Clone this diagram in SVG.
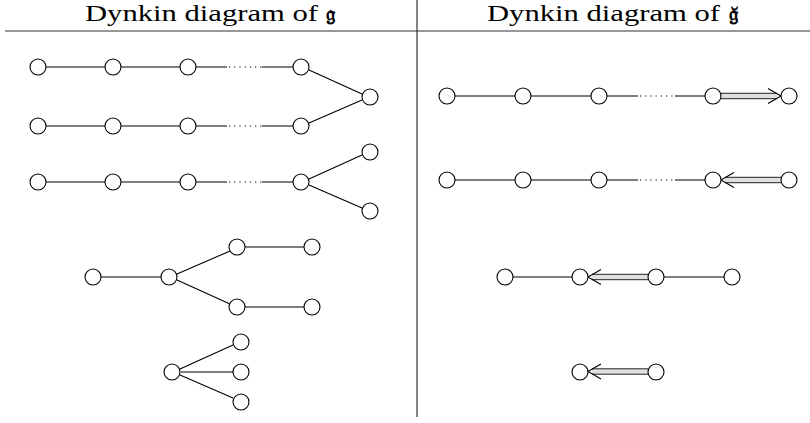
<svg xmlns="http://www.w3.org/2000/svg" width="810" height="423" viewBox="0 0 810 423">
<style>
.n{fill:#fff;stroke:#000;stroke-width:1.1}
.e{stroke:#000;stroke-width:1.1;fill:none}
.d{stroke:#000;stroke-width:1.1;stroke-dasharray:1.2 4;fill:none}
.dl{stroke:#222;stroke-width:1;fill:none}
.bar{fill:#e0e0e0;stroke:none}
.h{font-family:"Liberation Serif",serif;font-size:23px;fill:#000}
.g{font-family:"DejaVu Serif","DejaVu Sans",serif;font-size:21px;font-weight:bold}
.rule{stroke:#333;stroke-width:1.2}
</style>
<rect width="810" height="423" fill="#fff"/>
<g id="header">
<text class="h" y="20.5"><tspan x="85" textLength="233" lengthAdjust="spacingAndGlyphs">Dynkin diagram of</tspan><tspan class="g" x="326">𝔤</tspan></text>
<text class="h" y="20.5"><tspan x="487" textLength="233" lengthAdjust="spacingAndGlyphs">Dynkin diagram of</tspan><tspan class="g" x="729">𝔤̆</tspan></text>
<line class="rule" x1="5" y1="31" x2="810" y2="31"/>
<line class="rule" x1="417" y1="0" x2="417" y2="417"/>
</g>
<g id="connectors">
<path class="e" d="M46 67H105M121 67H180M196 67H227M262 67H293M309 70L362 94"/>
<path class="d" d="M229 67H262"/>
<path class="e" d="M46 126H105M121 126H180M196 126H227M262 126H293M309 123L362 100"/>
<path class="d" d="M229 126H262"/>
<path class="e" d="M46 182H105M121 182H180M196 182H227M262 182H293M309 179L362 155M309 185L362 208"/>
<path class="d" d="M229 182H262"/>
<path class="e" d="M101 277H161M177 274L230 251M177 280L230 304M245 247H304M245 307H304"/>
<path class="e" d="M180 369L233 345M181 372H233M180 375L233 398"/>
<path class="e" d="M455 96H515M531 96H591M607 96H638M675 96H705"/>
<path class="d" d="M640 96H675"/>
<rect class="bar" x="721" y="93.5" width="56" height="5"/>
<path class="dl" d="M721 93.3H777M721 98.7H777"/>
<path class="e" d="M768 88.5L781 96L768 103.5"/>
<path class="e" d="M455 180H515M531 180H591M607 180H638M675 180H705"/>
<path class="d" d="M640 180H675"/>
<rect class="bar" x="725" y="177.5" width="56" height="5"/>
<path class="dl" d="M725 177.3H781M725 182.7H781"/>
<path class="e" d="M734 172.5L721 180L734 187.5"/>
<path class="e" d="M513 277H572M664 277H724"/>
<rect class="bar" x="592" y="274.5" width="56" height="5"/>
<path class="dl" d="M592 274.3H648M592 279.7H648"/>
<path class="e" d="M601 269.5L588 277L601 284.5"/>
<rect class="bar" x="592" y="369" width="56" height="5"/>
<path class="dl" d="M592 368.8H648M592 374.2H648"/>
<path class="e" d="M601 364L588 371.5L601 379"/>
</g>
<g id="nodes">
<g id="l1"><circle class="n" cx="38" cy="67" r="8"/><circle class="n" cx="113" cy="67" r="8"/><circle class="n" cx="188" cy="67" r="8"/><circle class="n" cx="301" cy="67" r="8"/><circle class="n" cx="370" cy="97" r="8"/></g>
<g id="l2"><circle class="n" cx="38" cy="126" r="8"/><circle class="n" cx="113" cy="126" r="8"/><circle class="n" cx="188" cy="126" r="8"/><circle class="n" cx="301" cy="126" r="8"/></g>
<g id="l3"><circle class="n" cx="38" cy="182" r="8"/><circle class="n" cx="113" cy="182" r="8"/><circle class="n" cx="188" cy="182" r="8"/><circle class="n" cx="301" cy="182" r="8"/><circle class="n" cx="370" cy="152" r="8"/><circle class="n" cx="370" cy="211" r="8"/></g>
<g id="l4"><circle class="n" cx="93" cy="277" r="8"/><circle class="n" cx="169" cy="277" r="8"/><circle class="n" cx="237" cy="247" r="8"/><circle class="n" cx="312" cy="247" r="8"/><circle class="n" cx="237" cy="307" r="8"/><circle class="n" cx="312" cy="307" r="8"/></g>
<g id="l5"><circle class="n" cx="172" cy="372" r="8"/><circle class="n" cx="241" cy="342" r="8"/><circle class="n" cx="241" cy="372" r="8"/><circle class="n" cx="241" cy="402" r="8"/></g>
<g id="r1"><circle class="n" cx="447" cy="96" r="8"/><circle class="n" cx="523" cy="96" r="8"/><circle class="n" cx="599" cy="96" r="8"/><circle class="n" cx="713" cy="96" r="8"/><circle class="n" cx="789" cy="96" r="8"/></g>
<g id="r2"><circle class="n" cx="447" cy="180" r="8"/><circle class="n" cx="523" cy="180" r="8"/><circle class="n" cx="599" cy="180" r="8"/><circle class="n" cx="713" cy="180" r="8"/><circle class="n" cx="789" cy="180" r="8"/></g>
<g id="r4"><circle class="n" cx="505" cy="277" r="8"/><circle class="n" cx="580" cy="277" r="8"/><circle class="n" cx="656" cy="277" r="8"/><circle class="n" cx="732" cy="277" r="8"/></g>
<g id="r5"><circle class="n" cx="580" cy="372" r="8"/><circle class="n" cx="656" cy="372" r="8"/></g>
</g>
</svg>
